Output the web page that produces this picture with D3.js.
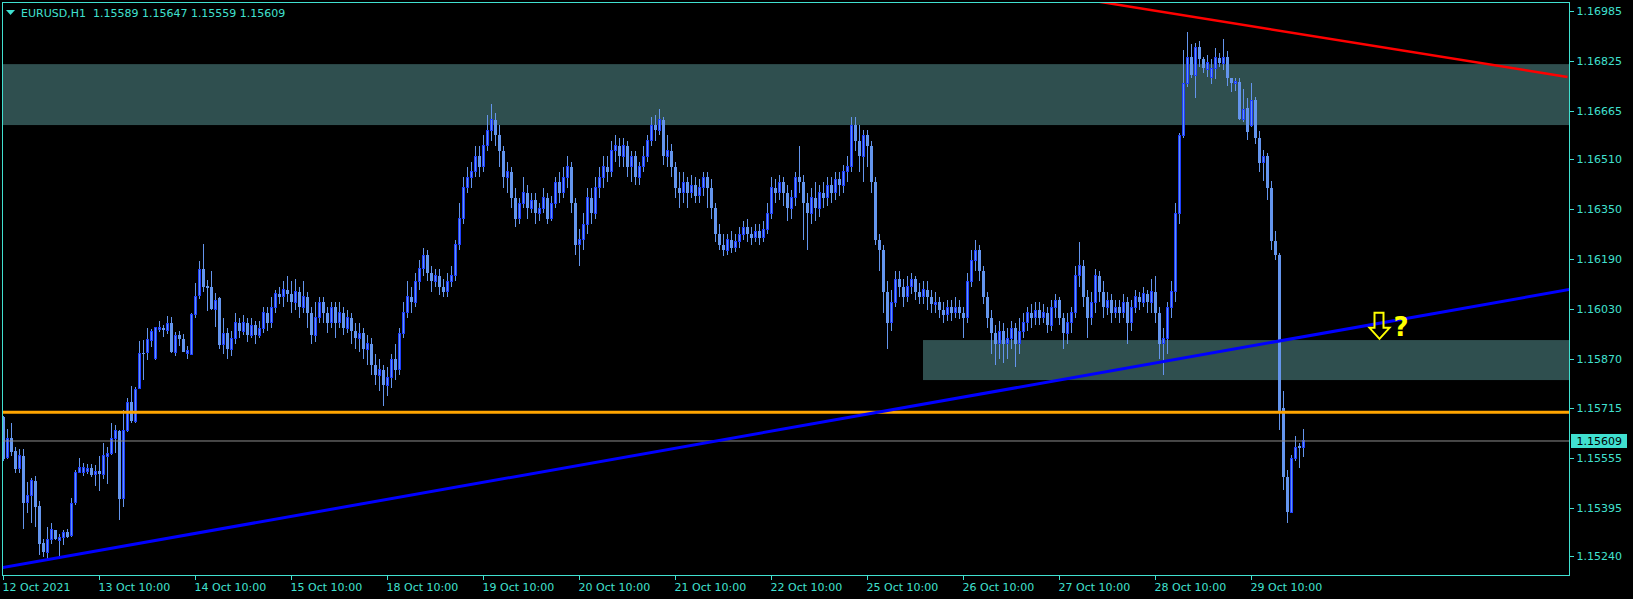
<!DOCTYPE html>
<html><head><meta charset="utf-8">
<script src="https://cdn.jsdelivr.net/npm/d3@7/dist/d3.min.js"></script>
<style>html,body{margin:0;padding:0;background:#000;overflow:hidden}</style>
</head><body><svg id="c" width="1633" height="599"></svg>
<script>
const symbolTitle = "EURUSD,H1";
const titleOHLC = ["1.15589","1.15647","1.15559","1.15609"];

const opens = [
1.15685,1.15555,1.15617,1.15577,1.15520,1.15561,1.15411,1.15435,1.15481,1.15401,
1.15282,1.15251,1.15294,1.15324,1.15290,1.15300,1.15317,1.15306,1.15411,1.15508,
1.15508,1.15510,1.15524,1.15503,1.15512,1.15503,1.15559,1.15568,1.15616,1.15641,
1.15424,1.15642,1.15733,1.15671,1.15776,1.15889,1.15891,1.15932,1.15874,1.15966,
1.15971,1.15962,1.15986,1.15891,1.15947,1.15935,1.15888,1.15887,1.16013,1.16074,
1.16158,1.16105,1.16101,1.16030,1.16065,1.15917,1.15953,1.15903,1.15937,1.15987,
1.15960,1.15987,1.15947,1.15980,1.15947,1.15970,1.16020,1.15987,1.16037,1.16080,
1.16070,1.16093,1.16080,1.16053,1.16087,1.16037,1.16070,1.16020,1.15947,1.16003,
1.16053,1.16020,1.15987,1.16037,1.15987,1.16020,1.15970,1.16003,1.15960,1.15937,
1.15953,1.15903,1.15920,1.15853,1.15820,1.15837,1.15787,1.15813,1.15870,1.15837,
1.15953,1.16020,1.16070,1.16053,1.16120,1.16160,1.16203,1.16147,1.16120,1.16137,
1.16103,1.16087,1.16120,1.16137,1.16237,1.16320,1.16420,1.16453,1.16470,1.16520,
1.16487,1.16553,1.16603,1.16637,1.16587,1.16537,1.16453,1.16470,1.16387,1.16320,
1.16370,1.16403,1.16353,1.16380,1.16337,1.16353,1.16387,1.16320,1.16370,1.16437,
1.16403,1.16453,1.16487,1.16370,1.16237,1.16253,1.16303,1.16387,1.16337,1.16420,
1.16453,1.16487,1.16470,1.16537,1.16553,1.16520,1.16553,1.16487,1.16520,1.16453,
1.16487,1.16520,1.16570,1.16620,1.16603,1.16637,1.16520,1.16537,1.16487,1.16420,
1.16403,1.16437,1.16403,1.16427,1.16393,1.16420,1.16453,1.16420,1.16353,1.16270,
1.16237,1.16220,1.16253,1.16227,1.16247,1.16270,1.16293,1.16270,1.16260,1.16280,
1.16260,1.16287,1.16337,1.16420,1.16403,1.16437,1.16403,1.16353,1.16387,1.16453,
1.16437,1.16370,1.16337,1.16387,1.16353,1.16403,1.16387,1.16427,1.16403,1.16447,
1.16427,1.16470,1.16487,1.16620,1.16570,1.16520,1.16587,1.16553,1.16437,1.16253,
1.16220,1.16087,1.15987,1.16053,1.16127,1.16103,1.16070,1.16103,1.16127,1.16087,
1.16070,1.16093,1.16070,1.16047,1.16053,1.16027,1.16013,1.16037,1.16020,1.16037,
1.16020,1.16003,1.16120,1.16187,1.16220,1.16153,1.16070,1.16003,1.15953,1.15920,
1.15960,1.15920,1.15937,1.15970,1.15920,1.15960,1.15987,1.16020,1.16003,1.16027,
1.16003,1.16020,1.15980,1.16037,1.16060,1.16003,1.15953,1.15987,1.16020,1.16137,
1.16170,1.16070,1.16003,1.16053,1.16137,1.16087,1.16037,1.16060,1.16020,1.16037,
1.16020,1.16053,1.15987,1.16037,1.16070,1.16053,1.16080,1.16053,1.16087,1.16020,
1.15920,1.15937,1.16037,1.16087,1.16337,1.16587,1.16753,1.16837,1.16780,1.16869,
1.16830,1.16798,1.16773,1.16801,1.16833,1.16817,1.16837,1.16769,1.16753,1.16758,
1.16638,1.16673,1.16620,1.16700,1.16580,1.16500,1.16520,1.16420,1.16250,1.16203,
1.15713,1.15493,1.15379,1.15552,1.15593,1.15589];

const highs = [
1.15690,1.15646,1.15665,1.15591,1.15582,1.15582,1.15479,1.15492,1.15498,1.15417,
1.15296,1.15333,1.15345,1.15324,1.15311,1.15324,1.15328,1.15426,1.15516,1.15556,
1.15537,1.15535,1.15535,1.15531,1.15561,1.15601,1.15591,1.15667,1.15659,1.15644,
1.15708,1.15746,1.15785,1.15783,1.15929,1.15932,1.15970,1.15966,1.15975,1.15993,
1.15980,1.16009,1.16005,1.15958,1.15961,1.15951,1.15913,1.16017,1.16115,1.16185,
1.16239,1.16124,1.16153,1.16083,1.16070,1.16003,1.15970,1.15960,1.16020,1.16003,
1.16013,1.16003,1.16003,1.15993,1.15993,1.16037,1.16037,1.16070,1.16093,1.16103,
1.16120,1.16137,1.16120,1.16127,1.16103,1.16120,1.16087,1.16037,1.16053,1.16070,
1.16070,1.16037,1.16053,1.16053,1.16053,1.16037,1.16027,1.16020,1.15987,1.15987,
1.15970,1.15947,1.15937,1.15887,1.15870,1.15853,1.15847,1.15887,1.15920,1.15970,
1.16053,1.16120,1.16103,1.16147,1.16187,1.16227,1.16220,1.16170,1.16160,1.16160,
1.16127,1.16147,1.16170,1.16253,1.16370,1.16453,1.16487,1.16503,1.16553,1.16553,
1.16587,1.16653,1.16687,1.16660,1.16620,1.16553,1.16503,1.16487,1.16420,1.16387,
1.16453,1.16427,1.16403,1.16403,1.16370,1.16420,1.16403,1.16393,1.16453,1.16470,
1.16487,1.16520,1.16503,1.16387,1.16287,1.16337,1.16420,1.16420,1.16453,1.16487,
1.16520,1.16520,1.16570,1.16587,1.16577,1.16580,1.16570,1.16537,1.16537,1.16503,
1.16553,1.16587,1.16647,1.16653,1.16670,1.16647,1.16587,1.16560,1.16503,1.16470,
1.16470,1.16453,1.16460,1.16453,1.16447,1.16470,1.16470,1.16447,1.16370,1.16303,
1.16270,1.16270,1.16280,1.16270,1.16293,1.16313,1.16320,1.16293,1.16303,1.16303,
1.16313,1.16370,1.16453,1.16447,1.16460,1.16453,1.16427,1.16413,1.16470,1.16553,
1.16460,1.16403,1.16420,1.16437,1.16427,1.16437,1.16453,1.16453,1.16470,1.16470,
1.16493,1.16520,1.16647,1.16647,1.16620,1.16603,1.16603,1.16570,1.16453,1.16270,
1.16237,1.16120,1.16093,1.16153,1.16153,1.16127,1.16137,1.16147,1.16137,1.16113,
1.16120,1.16120,1.16093,1.16087,1.16070,1.16053,1.16060,1.16060,1.16070,1.16060,
1.16037,1.16147,1.16220,1.16253,1.16237,1.16170,1.16087,1.16027,1.15980,1.15993,
1.15987,1.15970,1.15993,1.15987,1.16003,1.16020,1.16037,1.16047,1.16053,1.16053,
1.16047,1.16037,1.16060,1.16080,1.16070,1.16020,1.16020,1.16037,1.16170,1.16247,
1.16187,1.16093,1.16087,1.16160,1.16153,1.16120,1.16087,1.16080,1.16060,1.16060,
1.16080,1.16070,1.16060,1.16093,1.16087,1.16103,1.16093,1.16127,1.16137,1.16037,
1.15970,1.16053,1.16120,1.16370,1.16593,1.16860,1.16918,1.16879,1.16883,1.16889,
1.16837,1.16844,1.16830,1.16866,1.16849,1.16895,1.16856,1.16769,1.16769,1.16769,
1.16734,1.16705,1.16753,1.16709,1.16600,1.16540,1.16530,1.16440,1.16280,1.16210,
1.15770,1.15516,1.15564,1.15625,1.15601,1.15647];

const lows = [
1.15545,1.15551,1.15561,1.15507,1.15505,1.15328,1.15377,1.15345,1.15335,1.15244,
1.15239,1.15228,1.15279,1.15292,1.15239,1.15277,1.15300,1.15302,1.15404,1.15505,
1.15497,1.15503,1.15495,1.15465,1.15450,1.15488,1.15471,1.15564,1.15571,1.15356,
1.15399,1.15637,1.15667,1.15665,1.15774,1.15804,1.15868,1.15911,1.15868,1.15959,
1.15943,1.15951,1.15891,1.15881,1.15913,1.15894,1.15872,1.15884,1.16001,1.16063,
1.16087,1.16026,1.16028,1.15975,1.15903,1.15887,1.15870,1.15880,1.15920,1.15937,
1.15947,1.15927,1.15937,1.15920,1.15937,1.15953,1.15960,1.15970,1.16020,1.16047,
1.16037,1.16053,1.16020,1.16027,1.16003,1.16020,1.15970,1.15920,1.15927,1.15987,
1.15987,1.15953,1.15970,1.15937,1.15970,1.15947,1.15953,1.15920,1.15903,1.15893,
1.15870,1.15853,1.15820,1.15787,1.15770,1.15720,1.15753,1.15780,1.15803,1.15820,
1.15937,1.16003,1.16020,1.16037,1.16093,1.16137,1.16120,1.16087,1.16103,1.16077,
1.16070,1.16070,1.16103,1.16120,1.16220,1.16303,1.16403,1.16420,1.16453,1.16453,
1.16470,1.16537,1.16570,1.16553,1.16487,1.16420,1.16403,1.16353,1.16293,1.16303,
1.16353,1.16320,1.16337,1.16303,1.16313,1.16337,1.16303,1.16313,1.16353,1.16370,
1.16387,1.16420,1.16337,1.16203,1.16170,1.16220,1.16270,1.16303,1.16320,1.16387,
1.16420,1.16437,1.16453,1.16503,1.16487,1.16487,1.16453,1.16437,1.16427,1.16427,
1.16470,1.16503,1.16553,1.16570,1.16587,1.16493,1.16487,1.16453,1.16387,1.16353,
1.16370,1.16353,1.16387,1.16370,1.16370,1.16393,1.16353,1.16320,1.16247,1.16220,
1.16200,1.16203,1.16210,1.16213,1.16227,1.16253,1.16247,1.16237,1.16247,1.16237,
1.16247,1.16270,1.16320,1.16370,1.16380,1.16360,1.16313,1.16320,1.16360,1.16403,
1.16253,1.16220,1.16303,1.16313,1.16327,1.16353,1.16360,1.16370,1.16380,1.16393,
1.16403,1.16437,1.16470,1.16537,1.16470,1.16437,1.16487,1.16403,1.16237,1.16153,
1.16020,1.15903,1.15960,1.16037,1.16070,1.16037,1.16053,1.16080,1.16060,1.16047,
1.16047,1.16027,1.16020,1.16020,1.16003,1.15987,1.15993,1.15993,1.16003,1.16000,
1.15937,1.15987,1.16103,1.16153,1.16120,1.16047,1.15970,1.15887,1.15853,1.15870,
1.15860,1.15870,1.15903,1.15847,1.15887,1.15937,1.15960,1.15970,1.15980,1.15980,
1.15987,1.15953,1.15960,1.16003,1.15980,1.15903,1.15920,1.15953,1.16003,1.16103,
1.16037,1.15937,1.15980,1.16020,1.16053,1.16003,1.16013,1.15987,1.16003,1.15987,
1.16003,1.15920,1.15960,1.16020,1.16027,1.16037,1.16020,1.16020,1.15987,1.15870,
1.15820,1.15887,1.16003,1.16053,1.16303,1.16580,1.16743,1.16769,1.16705,1.16807,
1.16787,1.16775,1.16751,1.16766,1.16807,1.16796,1.16745,1.16727,1.16730,1.16636,
1.16631,1.16572,1.16615,1.16560,1.16470,1.16440,1.16380,1.16220,1.16187,1.15644,
1.15452,1.15347,1.15377,1.15546,1.15521,1.15559];

const closes = [
1.15550,1.15617,1.15575,1.15520,1.15561,1.15411,1.15435,1.15481,1.15399,1.15280,
1.15253,1.15294,1.15326,1.15294,1.15300,1.15317,1.15302,1.15409,1.15508,1.15524,
1.15524,1.15522,1.15501,1.15512,1.15503,1.15561,1.15570,1.15617,1.15641,1.15424,
1.15644,1.15733,1.15673,1.15775,1.15889,1.15887,1.15935,1.15958,1.15973,1.15973,
1.15964,1.15985,1.15894,1.15947,1.15936,1.15894,1.15897,1.16015,1.16072,1.16158,
1.16103,1.16099,1.16030,1.16058,1.15917,1.15953,1.15903,1.15937,1.15987,1.15960,
1.15987,1.15947,1.15980,1.15947,1.15970,1.16020,1.15987,1.16037,1.16080,1.16070,
1.16093,1.16080,1.16053,1.16087,1.16037,1.16070,1.16020,1.15947,1.16003,1.16053,
1.16020,1.15987,1.16037,1.15987,1.16020,1.15970,1.16003,1.15960,1.15937,1.15953,
1.15903,1.15920,1.15853,1.15820,1.15837,1.15787,1.15813,1.15870,1.15837,1.15953,
1.16020,1.16070,1.16053,1.16120,1.16160,1.16203,1.16147,1.16120,1.16137,1.16103,
1.16087,1.16120,1.16137,1.16237,1.16320,1.16420,1.16453,1.16470,1.16520,1.16487,
1.16553,1.16603,1.16637,1.16587,1.16537,1.16453,1.16470,1.16387,1.16320,1.16370,
1.16403,1.16353,1.16380,1.16337,1.16353,1.16387,1.16320,1.16370,1.16437,1.16403,
1.16453,1.16487,1.16370,1.16237,1.16253,1.16303,1.16387,1.16337,1.16420,1.16453,
1.16487,1.16470,1.16537,1.16553,1.16520,1.16553,1.16487,1.16520,1.16453,1.16487,
1.16520,1.16570,1.16620,1.16603,1.16637,1.16520,1.16537,1.16487,1.16420,1.16403,
1.16437,1.16403,1.16427,1.16393,1.16420,1.16453,1.16420,1.16353,1.16270,1.16237,
1.16220,1.16253,1.16227,1.16247,1.16270,1.16293,1.16270,1.16260,1.16280,1.16260,
1.16287,1.16337,1.16420,1.16403,1.16437,1.16403,1.16353,1.16387,1.16453,1.16437,
1.16370,1.16337,1.16387,1.16353,1.16403,1.16387,1.16427,1.16403,1.16447,1.16427,
1.16470,1.16487,1.16620,1.16570,1.16520,1.16587,1.16553,1.16437,1.16253,1.16220,
1.16087,1.15987,1.16053,1.16127,1.16103,1.16070,1.16103,1.16127,1.16087,1.16070,
1.16093,1.16070,1.16047,1.16053,1.16027,1.16013,1.16037,1.16020,1.16037,1.16020,
1.16003,1.16120,1.16187,1.16220,1.16153,1.16070,1.16003,1.15953,1.15920,1.15960,
1.15920,1.15937,1.15970,1.15920,1.15960,1.15987,1.16020,1.16003,1.16027,1.16003,
1.16020,1.15980,1.16037,1.16060,1.16003,1.15953,1.15987,1.16020,1.16137,1.16170,
1.16070,1.16003,1.16053,1.16137,1.16087,1.16037,1.16060,1.16020,1.16037,1.16020,
1.16053,1.15987,1.16037,1.16070,1.16053,1.16080,1.16053,1.16087,1.16020,1.15920,
1.15937,1.16037,1.16087,1.16337,1.16587,1.16753,1.16837,1.16780,1.16869,1.16830,
1.16801,1.16819,1.16801,1.16837,1.16817,1.16837,1.16769,1.16753,1.16760,1.16638,
1.16670,1.16599,1.16700,1.16580,1.16500,1.16520,1.16420,1.16250,1.16203,1.15703,
1.15493,1.15383,1.15553,1.15589,1.15587,1.15609];

const xTickBars = [0,24,48,72,96,120,144,168,192,216,240,264,288,312];
const xTickLabels = ["12 Oct 2021","13 Oct 10:00","14 Oct 10:00","15 Oct 10:00","18 Oct 10:00",
  "19 Oct 10:00","20 Oct 10:00","21 Oct 10:00","22 Oct 10:00","25 Oct 10:00","26 Oct 10:00",
  "27 Oct 10:00","28 Oct 10:00","29 Oct 10:00"];
const yTickValues = [1.16985,1.16825,1.16665,1.16510,1.16350,1.16190,1.16030,1.15870,1.15715,1.15555,1.15395,1.15240];

const zoneStartBars = [-2, 230];
const zoneTops = [1.16815, 1.15932];
const zoneBottoms = [1.16620, 1.15804];
const orangeLevel = 1.15701;
const bidPrice = 1.15609;
const blueLineBars = [-1, 392];
const blueLinePrices = [1.15202, 1.16095];
const redLineBars = [265, 391];
const redLinePrices = [1.17033, 1.16774];
const arrowBar = 344, arrowPrice = 1.16019;

const TXT = "#40E0D0";
const svg = d3.select("#c");
svg.append("rect").attr("width",1633).attr("height",599).attr("fill","#000");

const x = d3.scaleLinear().domain([0, 1]).range([3.5, 7.5]);
const y = d3.scaleLinear().domain([1.16985, 1.15240]).range([11, 556.3]);
const L = 2.5, T = 2.5, R = 1569.5, B = 575.5;

svg.append("clipPath").attr("id","plot").append("rect")
  .attr("x",3).attr("y",3).attr("width",R-3.5).attr("height",B-3.5);
const g = svg.append("g").attr("clip-path","url(#plot)");

// zones
const zoneEnd = 400;
g.selectAll("rect.zone").data(zoneStartBars).enter().append("rect")
  .attr("class","zone")
  .attr("x", d => x(d) - 0.5)
  .attr("y", (d,i) => y(zoneTops[i]))
  .attr("width", d => x(zoneEnd) - x(d))
  .attr("height", (d,i) => y(zoneBottoms[i]) - y(zoneTops[i]))
  .attr("fill","#2F4F4F");

// candles
const bars = opens.map((o,i) => ({k:i, o, h:highs[i], l:lows[i], c:closes[i]}));
const cg = g.append("g").attr("shape-rendering","crispEdges");
cg.selectAll("line.wick").data(bars).enter().append("line")
  .attr("x1", d => x(d.k)).attr("x2", d => x(d.k))
  .attr("y1", d => y(d.h)).attr("y2", d => y(d.l))
  .attr("stroke","#6495ED").attr("stroke-width",1);
cg.selectAll("rect.bear").data(bars.filter(d => d.c < d.o)).enter().append("rect")
  .attr("x", d => x(d.k) - 1.5).attr("width", 3)
  .attr("y", d => y(d.o)).attr("height", d => Math.max(1, y(d.c) - y(d.o)))
  .attr("fill","#6495ED");
cg.selectAll("rect.bull").data(bars.filter(d => d.c >= d.o)).enter().append("rect")
  .attr("x", d => x(d.k) - 1).attr("width", 2)
  .attr("y", d => y(d.c)).attr("height", d => Math.max(0.5, y(d.o) - y(d.c)))
  .attr("fill","#6495ED").attr("stroke","#1f3fff").attr("stroke-width",1);

// horizontal levels
g.append("line").attr("x1",0).attr("x2",R).attr("y1",y(bidPrice)).attr("y2",y(bidPrice))
  .attr("stroke","#8c8c8c").attr("stroke-width",1);
g.append("line").attr("x1",0).attr("x2",R).attr("y1",y(orangeLevel)).attr("y2",y(orangeLevel))
  .attr("stroke","#FFA500").attr("stroke-width",3);

// trend lines
const lineGen = d3.line().x(d => x(d[0])).y(d => y(d[1]));
g.append("path").attr("d", lineGen(blueLineBars.map((b,i)=>[b, blueLinePrices[i]])))
  .attr("stroke","#0000FF").attr("stroke-width",3).attr("fill","none");
g.append("path").attr("d", lineGen(redLineBars.map((b,i)=>[b, redLinePrices[i]])))
  .attr("stroke","#FF0000").attr("stroke-width",2.5).attr("fill","none");

// arrow + question mark
const ax = x(arrowBar), ay = y(arrowPrice);
const arrowShape = [[-5,0],[4,0],[4,15],[10,15],[0,26],[-10,15],[-5,15]];
g.append("path").attr("d", d3.line()(arrowShape.map(p => [ax + p[0], ay + p[1]])) + "Z")
  .attr("fill","none").attr("stroke","#FFFF00").attr("stroke-width",2);
g.append("text").attr("x", ax + 14).attr("y", ay + 23).text("?")
  .attr("fill","#FFFF00").attr("font-family","DejaVu Sans").attr("font-weight","bold").attr("font-size",26);

// frame
const fr = svg.append("g").attr("shape-rendering","crispEdges");
fr.append("rect").attr("x",L).attr("y",T).attr("width",R-L).attr("height",B-T)
  .attr("fill","none").attr("stroke",TXT).attr("stroke-width",1);

// y axis
const yAxis = svg.append("g").attr("font-family","DejaVu Sans").attr("font-size",11);
yAxis.selectAll("line").data(yTickValues).enter().append("line")
  .attr("x1",R).attr("x2",R+4).attr("y1",d=>Math.round(y(d))+0.5).attr("y2",d=>Math.round(y(d))+0.5)
  .attr("stroke",TXT).attr("shape-rendering","crispEdges");
yAxis.selectAll("text").data(yTickValues).enter().append("text")
  .attr("x",R+7).attr("y",d=>y(d)).attr("dy","0.36em").attr("fill",TXT)
  .text(d => d3.format(".5f")(d));

// bid label
svg.append("rect").attr("x",R+1.5).attr("y",y(bidPrice)-7).attr("width",56).attr("height",14).attr("fill",TXT);
svg.append("text").attr("x",R+7).attr("y",y(bidPrice)).attr("dy","0.36em")
  .attr("font-family","DejaVu Sans").attr("font-size",11).attr("fill","#000")
  .text(d3.format(".5f")(bidPrice));

// x axis
const xAxis = svg.append("g").attr("font-family","DejaVu Sans").attr("font-size",11);
xAxis.selectAll("line").data(xTickBars).enter().append("line")
  .attr("x1",d=>x(d)).attr("x2",d=>x(d)).attr("y1",B).attr("y2",B+4)
  .attr("stroke",TXT).attr("shape-rendering","crispEdges");
xAxis.selectAll("text").data(xTickBars).enter().append("text")
  .attr("x",d=>x(d)-1).attr("y",591).attr("fill",TXT)
  .text((d,i)=>xTickLabels[i]);

// title
svg.append("path").attr("d","M6,10 L15,10 L10.5,15 Z").attr("fill",TXT);
svg.append("text").attr("x",21).attr("y",17).attr("font-family","DejaVu Sans").attr("font-size",11)
  .attr("fill",TXT).attr("xml:space","preserve").style("white-space","pre")
  .text(symbolTitle + "  " + titleOHLC.join(" "));
</script></body></html>
